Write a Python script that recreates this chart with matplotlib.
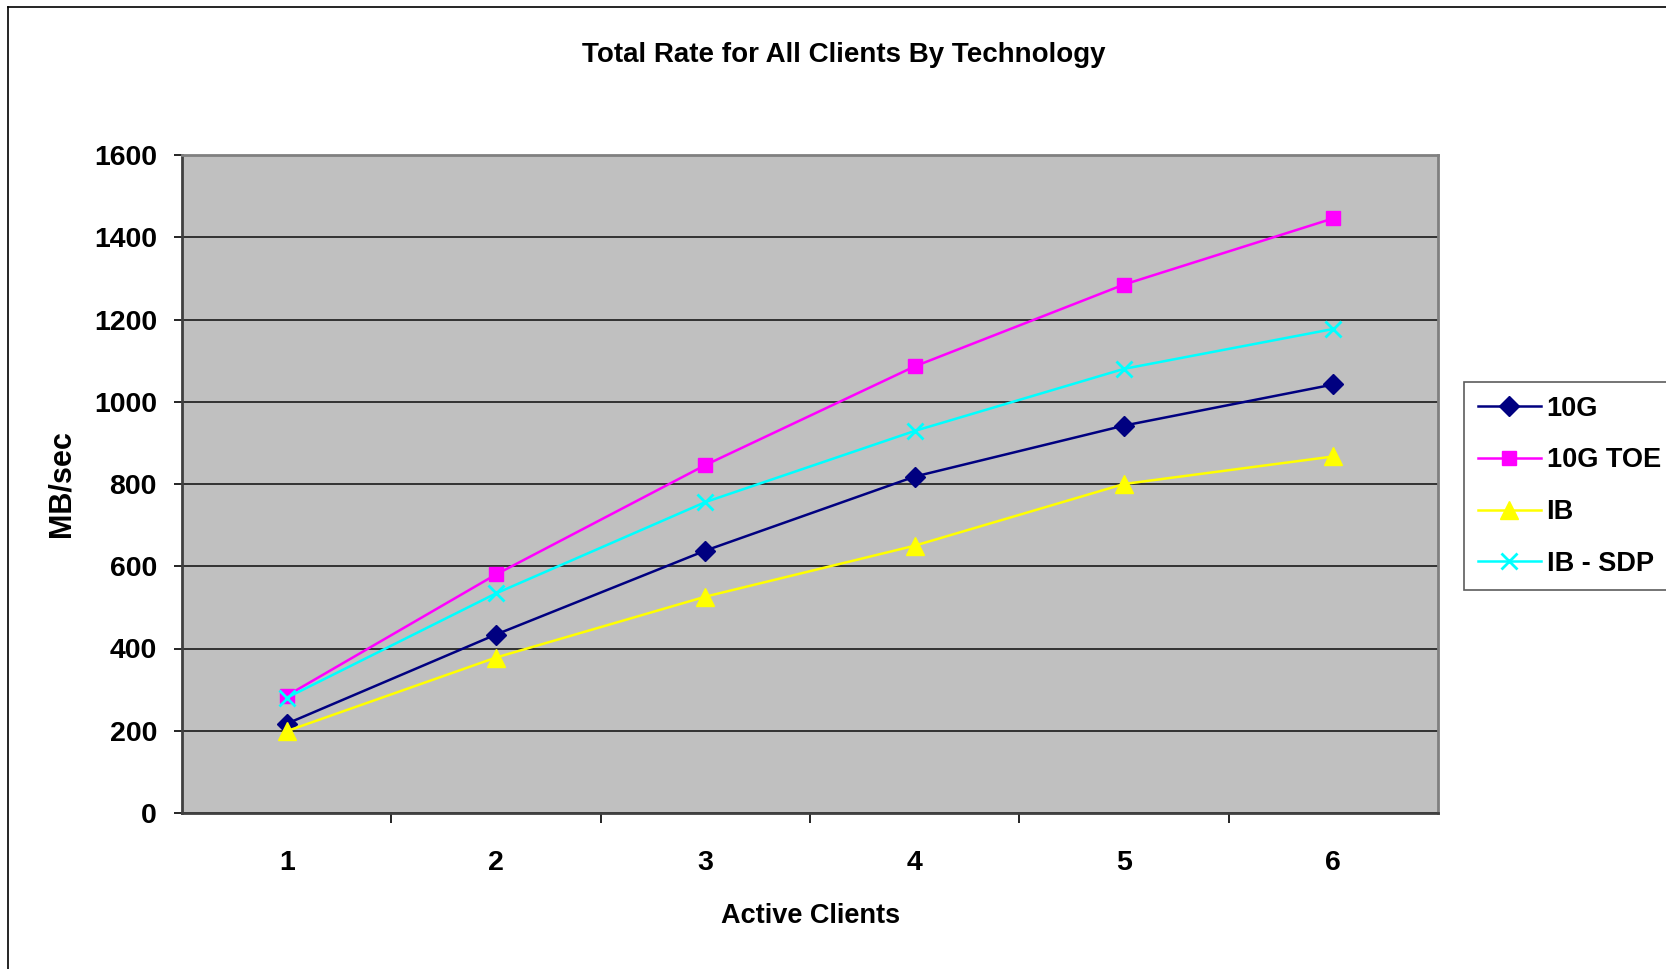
import matplotlib
matplotlib.use("Agg")
import matplotlib.pyplot as plt
from matplotlib.lines import Line2D

# Data
clients = [1, 2, 3, 4, 5, 6]
series_names = ["10G", "10G TOE", "IB", "IB - SDP"]
rate_10g = [217, 434, 638, 818, 942, 1042]
rate_10g_toe = [285, 580, 846, 1086, 1285, 1446]
rate_ib = [199, 378, 526, 650, 800, 867]
rate_ib_sdp = [280, 534, 756, 929, 1080, 1177]
y_ticks = [0, 200, 400, 600, 800, 1000, 1200, 1400, 1600]

W, H = 1666, 969
plt.rcParams['font.family'] = ['Liberation Sans', 'DejaVu Sans']
plt.rcParams['font.weight'] = 'bold'

fig = plt.figure(figsize=(W / 100, H / 100), dpi=100)
fig.patch.set_facecolor("white")

# outer chart border (left and top edges)
fig.add_artist(Line2D([8 / W, 8 / W], [0, 1 - 7 / H], transform=fig.transFigure,
                      color="black", lw=1.2))
fig.add_artist(Line2D([8 / W, 1], [1 - 7 / H, 1 - 7 / H], transform=fig.transFigure,
                      color="black", lw=1.2))

ax = fig.add_axes([182 / W, 1 - 813 / H, (1438 - 182) / W, (813 - 155) / H])
ax.set_facecolor("#C0C0C0")

styles = [
    (rate_10g, "#000080", "D", 10, dict()),
    (rate_10g_toe, "#FF00FF", "s", 10, dict()),
    (rate_ib, "#FFFF00", "^", 12.5, dict()),
    (rate_ib_sdp, "#00FFFF", "x", 12, dict(markeredgewidth=2)),
]
handles = []
for (vals, col, mk, ms, extra), name in zip(styles, series_names):
    h, = ax.plot(clients, vals, color=col, lw=1.8, marker=mk, markersize=ms,
                 markerfacecolor=col, markeredgecolor=col, label=name, zorder=3,
                 clip_on=False, **extra)
    handles.append(h)

ax.set_xlim(0.5, 6.5)
ax.set_ylim(0, 1600)
ax.set_yticks(y_ticks)
ax.set_yticklabels([str(v) for v in y_ticks])
ax.set_xticks([1.5, 2.5, 3.5, 4.5, 5.5], minor=False)
ax.set_xticks(clients, minor=True)
ax.set_xticklabels([str(c) for c in clients], minor=True)
ax.set_xticklabels([], minor=False)
ax.tick_params(axis="x", which="major", direction="out", length=7, width=1.2, color="black")
ax.tick_params(axis="x", which="minor", length=0, pad=27, labelsize=20.5)
ax.tick_params(axis="y", direction="out", length=6, width=1.2, color="black",
               pad=12, labelsize=20.5)

ax.yaxis.grid(True, color="#1a1a1a", lw=1.2)
ax.set_axisbelow(True)
for s in ax.spines.values():
    s.set_color("#808080")
    s.set_linewidth(2)
ax.spines["left"].set_color("#404040")
ax.spines["bottom"].set_color("#404040")

fig.text(62 / W, 1 - 484 / H, "MB/sec", rotation=90, ha="center", va="center",
         fontsize=22, fontweight="bold")
fig.text(811 / W, 1 - 916 / H, "Active Clients", ha="center", va="center",
         fontsize=19.5, fontweight="bold")
fig.text(844 / W, 1 - 55 / H, "Total Rate for All Clients By Technology",
         ha="center", va="center", fontsize=20, fontweight="bold")

leg = fig.legend(handles=handles, loc="upper left",
                 bbox_to_anchor=(1464 / W, 1 - 382 / H),
                 bbox_transform=fig.transFigure,
                 fontsize=19.5, frameon=True, fancybox=False,
                 handlelength=2.35, handletextpad=0.2, labelspacing=0.95,
                 borderpad=0.5, borderaxespad=0)
leg.get_frame().set_edgecolor("#333333")
leg.get_frame().set_linewidth(1.2)
for t in leg.get_texts():
    t.set_fontweight("bold")

fig.savefig("out.png", dpi=100)
